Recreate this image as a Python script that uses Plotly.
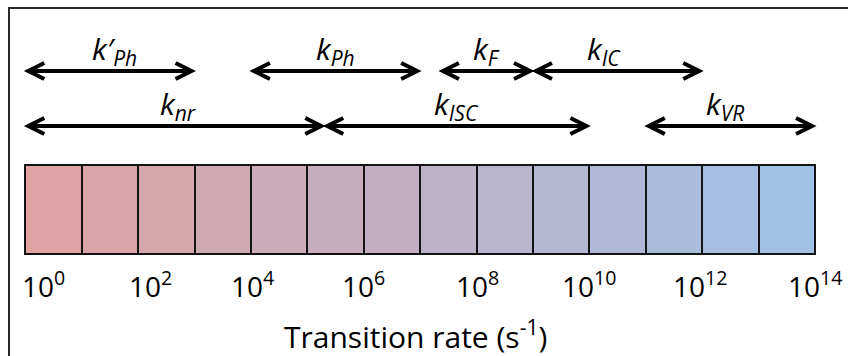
import plotly.graph_objects as go

# ---- data ----
decades = list(range(14))                      # one box per decade 10^0 ... 10^14
tick_exponents = [0, 2, 4, 6, 8, 10, 12, 14]
tick_labels = ["10<sup>%d</sup>" % e for e in tick_exponents]

rate_names = ["k′<sub>Ph</sub>", "k<sub>Ph</sub>", "k<sub>F</sub>", "k<sub>IC</sub>",
              "k<sub>nr</sub>", "k<sub>ISC</sub>", "k<sub>VR</sub>"]
rate_start = [0, 4, 7.35, 9, 0, 5.3, 11]      # log10 of lower rate
rate_end = [3, 7, 9, 12, 5.3, 10, 14]         # log10 of upper rate
rate_row = [1, 1, 1, 1, 2, 2, 2]

axis_title = "Transition rate (s<sup>-1</sup>)"

# ---- style / layout ----
W, H = 848, 356
x0_px, unit_px = 25.3, 56.41
x_lo = -x0_px / unit_px
x_hi = x_lo + W / unit_px
row_y = {1: 71, 2: 126}
box_top, box_bottom = 165, 254
label_xshift = [5, 0, 0, -14, 3, 0, -5]
tick_xshift = [18, 12, 2, 0, 1, 0, -2, 0]
FONT = "Open Sans"

c0 = (223, 163, 163)
c1 = (160, 192, 230)
n = len(decades)
colors = []
for i in range(n):
    t = i / (n - 1)
    colors.append("rgb(%d,%d,%d)" % tuple(round(a + (b - a) * t) for a, b in zip(c0, c1)))

fig = go.Figure()
fig.add_trace(go.Bar(
    x=[d + 0.5 for d in decades],
    y=[box_bottom - box_top] * n,
    base=box_top,
    width=1,
    marker=dict(color=colors, line=dict(color="#141414", width=2)),
    hoverinfo="skip",
))

shapes = []
# frame
shapes.append(dict(type="rect", xref="paper", yref="paper",
                   x0=9 / W, x1=1.05, y0=-0.05, y1=1 - 8 / H,
                   line=dict(color="#2a2a2a", width=2), fillcolor="rgba(0,0,0,0)", layer="below"))

inset = 4 / unit_px
head_l, head_h, tip = 16, 8, 3
annotations = []
for name, s, e, r, xs in zip(rate_names, rate_start, rate_end, rate_row, label_xshift):
    y = row_y[r]
    shapes.append(dict(type="line", xref="x", yref="y", x0=s + inset, x1=e - inset, y0=y, y1=y,
                       line=dict(color="black", width=4), layer="above"))
    # right head
    shapes.append(dict(type="path", xref="x", yref="y", xsizemode="pixel", ysizemode="pixel",
                       xanchor=e, yanchor=y,
                       path="M %d,%d L %d,0 L %d,%d" % (-head_l - tip, head_h, -tip, -head_l - tip, -head_h),
                       line=dict(color="black", width=4), layer="above"))
    # left head
    shapes.append(dict(type="path", xref="x", yref="y", xsizemode="pixel", ysizemode="pixel",
                       xanchor=s, yanchor=y,
                       path="M %d,%d L %d,0 L %d,%d" % (head_l + tip, head_h, tip, head_l + tip, -head_h),
                       line=dict(color="black", width=4), layer="above"))
    annotations.append(dict(x=(s + e) / 2, y=y, xref="x", yref="y", xanchor="center", yanchor="bottom",
                            yshift=-3, xshift=xs, showarrow=False, text="<i>%s</i>" % name,
                            font=dict(family=FONT, size=30, color="black")))

for e, lab, xs in zip(tick_exponents, tick_labels, tick_xshift):
    annotations.append(dict(x=e, y=284, xref="x", yref="y", xanchor="center", yanchor="middle",
                            xshift=xs, showarrow=False, text=lab,
                            font=dict(family=FONT, size=28, color="black")))

annotations.append(dict(x=415 / W, y=335, xref="paper", yref="y", xanchor="center", yanchor="middle",
                        showarrow=False, text=axis_title,
                        font=dict(family=FONT, size=30, color="black")))

fig.update_layout(
    width=W, height=H, margin=dict(l=0, r=0, t=0, b=0),
    paper_bgcolor="white", plot_bgcolor="white", showlegend=False,
    xaxis=dict(range=[x_lo, x_hi], visible=False, fixedrange=True),
    yaxis=dict(range=[H, 0], visible=False, fixedrange=True),
    shapes=shapes, annotations=annotations, bargap=0,
)
fig.write_html("out.html", config={"displayModeBar": False})
